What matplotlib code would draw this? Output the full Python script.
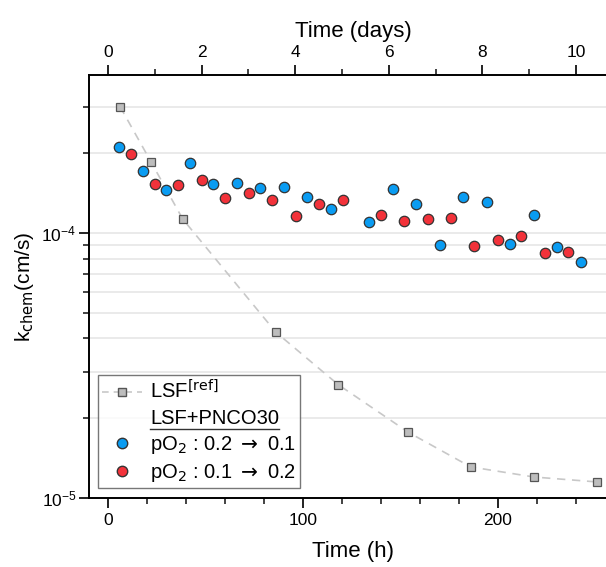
import numpy as np
import matplotlib.pyplot as plt
from matplotlib.lines import Line2D
from matplotlib.ticker import LogLocator, NullFormatter, MultipleLocator

plt.rcParams['font.family'] = ['Liberation Sans', 'DejaVu Sans']

# reference LSF data
t_ref = [6.2, 22.0, 38.3, 86.0, 118.0, 154.0, 186.0, 218.5, 250.6]
k_ref = [3.0e-4, 1.86e-4, 1.13e-4, 4.23e-5, 2.68e-5, 1.77e-5, 1.31e-5, 1.20e-5, 1.15e-5]

# LSF+PNCO30, pO2 0.2 -> 0.1
t_down = [5.8, 17.9, 29.9, 42.0, 54.0, 66.2, 78.1, 90.3, 102.2, 114.2, 133.8,
          146.0, 158.0, 170.1, 182.0, 194.2, 206.2, 218.3, 230.0, 242.4]
k_down = [2.12e-4, 1.72e-4, 1.45e-4, 1.84e-4, 1.53e-4, 1.55e-4, 1.48e-4, 1.49e-4,
          1.37e-4, 1.235e-4, 1.10e-4, 1.47e-4, 1.29e-4, 0.90e-4, 1.37e-4, 1.31e-4,
          0.906e-4, 1.166e-4, 0.888e-4, 0.775e-4]

# LSF+PNCO30, pO2 0.1 -> 0.2
t_up = [11.8, 24.1, 35.9, 48.0, 60.0, 72.1, 84.1, 96.2, 108.2, 120.3,
        139.8, 152.0, 164.0, 176.0, 187.9, 200.0, 212.0, 224.1, 236.1]
k_up = [1.99e-4, 1.53e-4, 1.52e-4, 1.585e-4, 1.36e-4, 1.42e-4, 1.33e-4, 1.16e-4,
        1.29e-4, 1.33e-4, 1.17e-4, 1.11e-4, 1.13e-4, 1.136e-4, 0.891e-4, 0.941e-4,
        0.977e-4, 0.84e-4, 0.846e-4]

blue = '#0a9cf2'
red = '#f2323a'

fig = plt.figure(figsize=(6.06, 5.67), dpi=100)
ax = fig.add_axes([89/606, 69/567, 529/606, 423/567])

ax.plot(t_ref, k_ref, ls=(0, (5, 4)), color='#c8c8c8', lw=1.2, zorder=2)
ax.plot(t_ref, k_ref, ls='none', marker='s', ms=5.5, mfc='#bdbdbd', mec='#555555',
        mew=0.9, zorder=3)
ax.plot(t_down, k_down, ls='none', marker='o', ms=7.5, mfc=blue, mec='#333333',
        mew=0.9, zorder=4)
ax.plot(t_up, k_up, ls='none', marker='o', ms=7.5, mfc=red, mec='#333333',
        mew=0.9, zorder=4)

xlim = (-9.74, 261.5)
ax.set_yscale('log')
ax.set_ylim(1e-5, 3.95e-4)
ax.set_xlim(*xlim)
ax.xaxis.set_major_locator(MultipleLocator(100))
ax.xaxis.set_minor_locator(MultipleLocator(20))
ax.yaxis.set_major_locator(LogLocator(base=10, numticks=10))
ax.yaxis.set_minor_locator(LogLocator(base=10, subs=np.arange(2, 10), numticks=20))
ax.yaxis.set_minor_formatter(NullFormatter())
ax.grid(True, which='both', axis='y', color='#e6e6e6', lw=1.2, zorder=0)
ax.set_axisbelow(True)

for s in ['right', 'top']:
    ax.spines[s].set_visible(False)
for s in ['left', 'bottom']:
    ax.spines[s].set_linewidth(1.4)
ax.tick_params(which='major', length=7, width=1.4, labelsize=12.5, color='#222222')
ax.tick_params(which='minor', length=4, width=1.2, color='#222222')
ax.tick_params(axis='y', which='major', pad=2)

ax.set_xlabel('Time (h)', fontsize=16, labelpad=10)
ax.set_ylabel(r'k$_{\rm chem}$(cm/s)', fontsize=15, labelpad=4)

# top axis in days (same time scale)
ax2 = ax.twiny()
ax2.set_xlim(xlim[0] / 24, xlim[1] / 24)
ax2.xaxis.set_major_locator(MultipleLocator(2))
ax2.xaxis.set_minor_locator(MultipleLocator(1))
ax2.spines['top'].set_linewidth(1.4)
for s in ['right', 'bottom', 'left']:
    ax2.spines[s].set_visible(False)
ax2.tick_params(which='major', length=7, width=1.4, labelsize=12.5, color='#222222')
ax2.tick_params(which='minor', length=4, width=1.2, color='#222222')
ax2.set_xlabel('Time (days)', fontsize=16, labelpad=6)

handles = [
    Line2D([], [], ls=(0, (4, 3)), color='#c8c8c8', lw=1.2, marker='s', ms=5.5,
           mfc='#bdbdbd', mec='#555555'),
    Line2D([], [], ls='none'),
    Line2D([], [], ls='none', marker='o', ms=7.5, mfc=blue, mec='#333333'),
    Line2D([], [], ls='none', marker='o', ms=7.5, mfc=red, mec='#333333'),
]
labels = [r'LSF$^{\rm [ref]}$', 'LSF+PNCO30',
          r'pO$_2$ : 0.2 $\rightarrow$ 0.1', r'pO$_2$ : 0.1 $\rightarrow$ 0.2']
leg = ax.legend(handles, labels, loc='lower left', bbox_to_anchor=(0.017, 0.024),
                borderaxespad=0, fontsize=14.5, frameon=True, fancybox=False,
                edgecolor='#555555', handlelength=2.0, handletextpad=0.4,
                labelspacing=0.3, borderpad=0.2)
leg.get_frame().set_linewidth(1.0)

# underline the group title in the legend
fig.canvas.draw()
bb = leg.get_texts()[1].get_window_extent().transformed(fig.transFigure.inverted())
fig.add_artist(Line2D([bb.x0, bb.x1], [bb.y0 - 0.002, bb.y0 - 0.002],
                      color='#333333', lw=1.0, transform=fig.transFigure))

fig.savefig('out.png', dpi=100)
